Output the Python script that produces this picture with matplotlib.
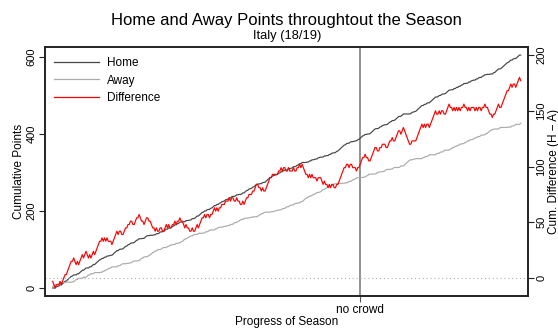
import numpy as np
import matplotlib
matplotlib.use("Agg")
import matplotlib.pyplot as plt
from matplotlib.lines import Line2D

plt.rcParams['font.family'] = ['Liberation Sans', 'DejaVu Sans']

# Serie A 2018/19 match outcomes in playing order
# (H = home win, D = draw, A = away win)
results_1_80 = [
    "A", "AA", "HDD", "HAHH", "HDHH", "HHDH", "AA", "HAH", "HHAHH", "AA",
    "HAH", "HAHH", "HHDH", "AHA", "HAD", "DA", "HHHH", "AHDA", "DH", "HDHDH",
    "DAD", "HHDH", "AADA", "HH", "DAD",
]
results_81_120 = [
    "AA", "DA", "HADH", "DAD", "HH", "AHA", "DHD", "HAHDH", "ADA", "AHADA",
    "DHA", "DH", "HAH",
]
results_121_186 = [
    "HHDH", "AHDA", "HDHH", "AHA", "HD", "HDD", "HDDH", "AHD", "ADHA", "DAD",
    "HAH", "HDHD", "DHDH", "HDAD", "AHAD", "HHH", "HDHD", "DD", "DHDH",
]
results_187_250 = [
    "AHDA", "DH", "ADD", "HADH", "DHAH", "AA", "ADA", "HAH", "ADDA", "HDDA",
    "AHA", "DA", "HAH", "DAD", "HDH", "HHH", "HDHD", "AHDA", "DDA", "HDH",
]
results_251_380 = [
    "HHDH", "ADAD", "HHHH", "DAD", "HDHD", "DAD", "HHDH", "AD", "HHH", "DAHH",
    "AAAAA", "DHD", "DD", "HHHHH", "AHA", "HDA", "HHHHH", "AD", "HAH", "DAD",
    "HHH", "ADA", "HAH", "AHA", "HDH", "ADA", "HAH", "DDA", "HAH", "DA",
    "HDH", "ADA", "ADA", "HDHH", "HADH", "HHHH", "DH", "HAH", "DA", "HHH", "A",
]

home_points = {"H": 3, "D": 1, "A": 0}
away_points = {"H": 0, "D": 1, "A": 3}

no_crowd_match = 250
left_ticks = [0, 200, 400, 600]
right_ticks = [0, 50, 100, 150, 200]

title = "Home and Away Points throughtout the Season"
subtitle = "Italy (18/19)"

outcomes = "".join(results_1_80 + results_81_120 + results_121_186
                   + results_187_250 + results_251_380)
match_no = np.arange(1, len(outcomes) + 1)
home_cum = np.cumsum([home_points[o] for o in outcomes])
away_cum = np.cumsum([away_points[o] for o in outcomes])
diff_cum = home_cum - away_cum

W, H = 558, 328
fig = plt.figure(figsize=(W / 100, H / 100), dpi=100)
L, R, T, B = 45, 528, 47, 296
ax = fig.add_axes([L / W, 1 - B / H, (R - L) / W, (B - T) / H])

home_col = "#454545"
away_col = "#ababab"
diff_col = "#ff0000"

ax.axvline(no_crowd_match, color="#808080", lw=1.2, zorder=1)
ax.plot(match_no, home_cum, color=home_col, lw=0.85, zorder=2)
ax.plot(match_no, away_cum, color=away_col, lw=0.85, zorder=2)
ax.set_xlim(-5.2, 385.9)
ax.set_ylim(-20.8, 626)

ax2 = ax.twinx()
ax2.axhline(0, color="#b0b0b0", lw=0.8, ls=(0, (1, 2.5)))
ax2.plot(match_no, diff_cum, color=diff_col, lw=0.85)
ax2.set_ylim(-16.1, 207.2)

for a in (ax, ax2):
    for s in a.spines.values():
        s.set_linewidth(1.2)
        s.set_color("#222222")

ax.set_yticks(left_ticks)
ax.set_yticklabels([str(t) for t in left_ticks], rotation=90, va="center")
ax.tick_params(axis="y", length=4.5, width=0.8, pad=1.6, labelsize=8,
               color="#222222")
ax2.set_yticks(right_ticks)
ax2.set_yticklabels([str(t) for t in right_ticks], rotation=90, va="center")
ax2.tick_params(axis="y", length=4.5, width=0.8, pad=1.5, labelsize=8,
                color="#222222")
ax.set_xticks([no_crowd_match])
ax.set_xticklabels(["no crowd"])
ax.tick_params(axis="x", length=4, width=0.8, pad=2.0, labelsize=8.5,
               color="#555555")

fig.text(286.5 / W, 1 - 25 / H, title, ha="center", va="baseline",
         fontsize=12)
fig.text(287 / W, 1 - 39.5 / H, subtitle, ha="center", va="baseline",
         fontsize=9.3)
fig.text(286.5 / W, 1 - 324.5 / H, "Progress of Season", ha="center",
         va="baseline", fontsize=8.5)
fig.text(21.7 / W, 1 - 171.5 / H, "Cumulative Points", ha="center",
         va="baseline", rotation=90, rotation_mode="anchor", fontsize=8.5)
fig.text(556.5 / W, 1 - 171.5 / H, "Cum. Difference (H \u2212 A)",
         ha="center", va="baseline", rotation=90, rotation_mode="anchor",
         fontsize=8.5)

handles = [
    Line2D([], [], color=home_col, lw=0.9),
    Line2D([], [], color=away_col, lw=0.9),
    Line2D([], [], color=diff_col, lw=0.9),
]
ax2.legend(handles, ["Home", "Away", "Difference"], loc="upper left",
           bbox_to_anchor=((54 - L) / (R - L), (B - 57.5) / (B - T)),
           frameon=False, fontsize=8.5, handlelength=3.8,
           handletextpad=0.65, labelspacing=0.43, borderpad=0,
           borderaxespad=0)

fig.savefig("out.png", dpi=100)
